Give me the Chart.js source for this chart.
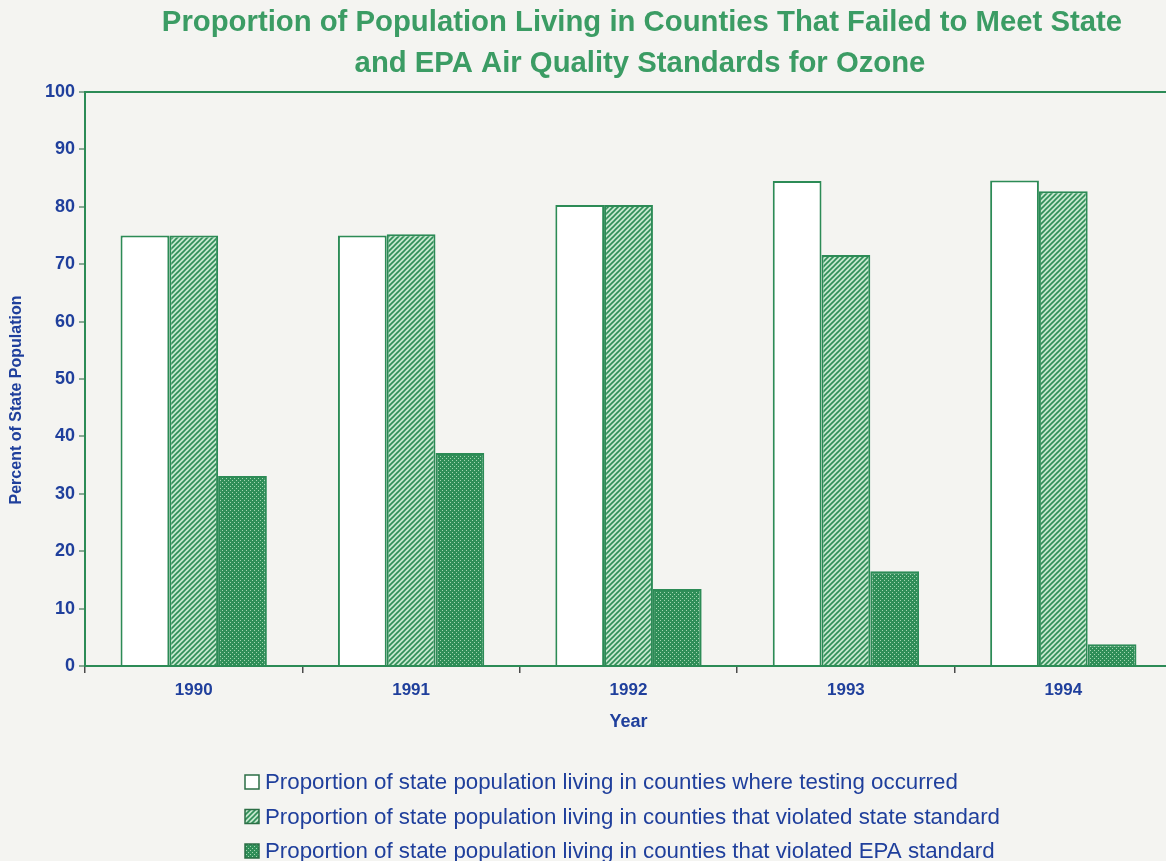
<!DOCTYPE html>
<html lang="en">
<head>
<meta charset="utf-8">
<title>Ozone Standards - Population Share</title>
<script src="https://cdn.jsdelivr.net/npm/chart.js@4/dist/chart.umd.min.js"></script>
<style>
    html, body {
        margin: 0;
        padding: 0;
        background: #f4f4f1;
        overflow: hidden;
    }

    #ozoneChart {
        display: block;
    }
</style>
</head>
<body>
<canvas id="ozoneChart" width="1172" height="861"></canvas>

<script>
/* =========================================================
   OZONE STANDARDS CHART
========================================================= */

"use strict";

const years = ["1990", "1991", "1992", "1993", "1994"];

const testedShare = [75, 75, 80.3, 84.5, 84.6];

const stateViolationShare = [75, 75.2, 80.3, 71.6, 82.7];

const epaViolationShare = [33.1, 37.1, 13.4, 16.5, 3.8];

const seriesLabels = [
    "Proportion of state population living in counties where testing occurred",
    "Proportion of state population living in counties that violated state standard",
    "Proportion of state population living in counties that violated EPA standard"
];

const titleLines = [
    "Proportion of Population Living in Counties That Failed to Meet State",
    "and EPA Air Quality Standards for Ozone"
];

const yAxisTitle = "Percent of State Population";

const GREEN = "#2c8b56";
const TITLE_GREEN = "#3b9c64";
const BLUE = "#1f3f9c";
const FONT = "'Liberation Sans', Arial, sans-serif";


/* =========================================================
   FILL PATTERNS
========================================================= */

function makeHatchPattern() {

    const size = 5;
    const tile = document.createElement("canvas");
    tile.width = size;
    tile.height = size;

    const ctx = tile.getContext("2d");
    ctx.fillStyle = "#c4e7cd";
    ctx.fillRect(0, 0, size, size);

    ctx.strokeStyle = "#2f8e58";
    ctx.lineWidth = 1.6;
    ctx.beginPath();
    ctx.moveTo(-1, size + 1);
    ctx.lineTo(size + 1, -1);
    ctx.moveTo(-1, 1);
    ctx.lineTo(1, -1);
    ctx.moveTo(size - 1, size + 1);
    ctx.lineTo(size + 1, size - 1);
    ctx.stroke();

    return ctx.createPattern(tile, "repeat");
}

function makeMeshPattern() {

    const tile = document.createElement("canvas");
    tile.width = 4;
    tile.height = 4;

    const ctx = tile.getContext("2d");
    ctx.fillStyle = "#2f8e58";
    ctx.fillRect(0, 0, 4, 4);

    ctx.fillStyle = "#a3d6b1";
    ctx.fillRect(0, 0, 1, 1);
    ctx.fillRect(2, 2, 1, 1);

    return ctx.createPattern(tile, "repeat");
}


/* =========================================================
   TITLE + AXIS NAME + LEGEND DRAWING
========================================================= */

const chartTextPlugin = {

    id: "chartText",

    afterDraw(chart) {

        const ctx = chart.ctx;

        ctx.save();

        // two line heading
        ctx.fillStyle = TITLE_GREEN;
        ctx.font = "bold 29.3px " + FONT;
        ctx.textAlign = "center";
        ctx.textBaseline = "middle";
        ctx.fillText(titleLines[0], 642, 23);
        ctx.fillText(titleLines[1], 640, 64);

        // rotated y axis name
        ctx.save();
        ctx.translate(17, 400);
        ctx.rotate(-Math.PI / 2);
        ctx.fillStyle = BLUE;
        ctx.font = "bold 16px " + FONT;
        ctx.fillText(yAxisTitle, 0, 0);
        ctx.restore();

        // stacked legend under the axis
        const startX = 245;
        const rowY = chart.chartArea.bottom + 116;
        const rowGap = 34.5;

        ctx.textAlign = "left";
        ctx.font = "22.3px " + FONT;

        chart.data.datasets.forEach((ds, i) => {

            const y = rowY + i * rowGap;

            ctx.fillStyle = ds.backgroundColor;
            ctx.fillRect(startX, y - 7, 14, 14);
            ctx.strokeStyle = "#2b6e45";
            ctx.lineWidth = 1.5;
            ctx.strokeRect(startX, y - 7, 14, 14);

            ctx.fillStyle = BLUE;
            ctx.fillText(ds.label, startX + 20, y + 1);

        });

        ctx.restore();
    }
};


/* =========================================================
   CHART
========================================================= */

function createOzoneChart() {

    const canvas = document.getElementById("ozoneChart");

    if (!canvas || typeof Chart === "undefined") return;

    const fills = ["#ffffff", makeHatchPattern(), makeMeshPattern()];
    const values = [testedShare, stateViolationShare, epaViolationShare];

    const datasets = values.map((data, i) => ({
        label: seriesLabels[i],
        data: data,
        backgroundColor: fills[i],
        borderColor: GREEN,
        borderWidth: 2,
        borderSkipped: "bottom",
        categoryPercentage: 0.673,
        barPercentage: 1
    }));

    new Chart(canvas, {

        type: "bar",

        data: {
            labels: years,
            datasets: datasets
        },

        plugins: [chartTextPlugin],

        options: {

            responsive: false,
            animation: false,
            devicePixelRatio: 1,

            layout: {
                padding: { top: 92, right: 0, bottom: 125, left: 0 }
            },

            scales: {

                x: {
                    grid: {
                        offset: true,
                        drawOnChartArea: false,
                        drawTicks: true,
                        tickLength: 7,
                        tickColor: "#4a4a4a",
                        lineWidth: 1.5
                    },
                    border: { color: GREEN, width: 2 },
                    ticks: {
                        color: BLUE,
                        padding: 7,
                        font: { family: FONT, size: 17, weight: "bold" }
                    },
                    title: {
                        display: true,
                        text: "Year",
                        color: BLUE,
                        padding: { top: 0, bottom: 3 },
                        font: { family: FONT, size: 18, weight: "bold" }
                    },
                    afterFit: (scale) => { scale.height = 70; }
                },

                y: {
                    min: 0,
                    max: 100,
                    grid: {
                        color: (c) => (c.tick && c.tick.value === 100 ? GREEN : "rgba(0,0,0,0)"),
                        lineWidth: 2,
                        drawTicks: true,
                        tickLength: 6,
                        tickColor: "#8aa996"
                    },
                    border: { color: GREEN, width: 2 },
                    ticks: {
                        stepSize: 10,
                        color: BLUE,
                        padding: 4,
                        font: { family: FONT, size: 18, weight: "bold" }
                    },
                    title: { display: false },
                    afterFit: (scale) => { scale.width = 85; }
                }
            },

            plugins: {
                legend: { display: false },
                title: { display: false },
                tooltip: { enabled: false }
            }
        }
    });
}

document.addEventListener("DOMContentLoaded", createOzoneChart);
</script>
</body>
</html>
